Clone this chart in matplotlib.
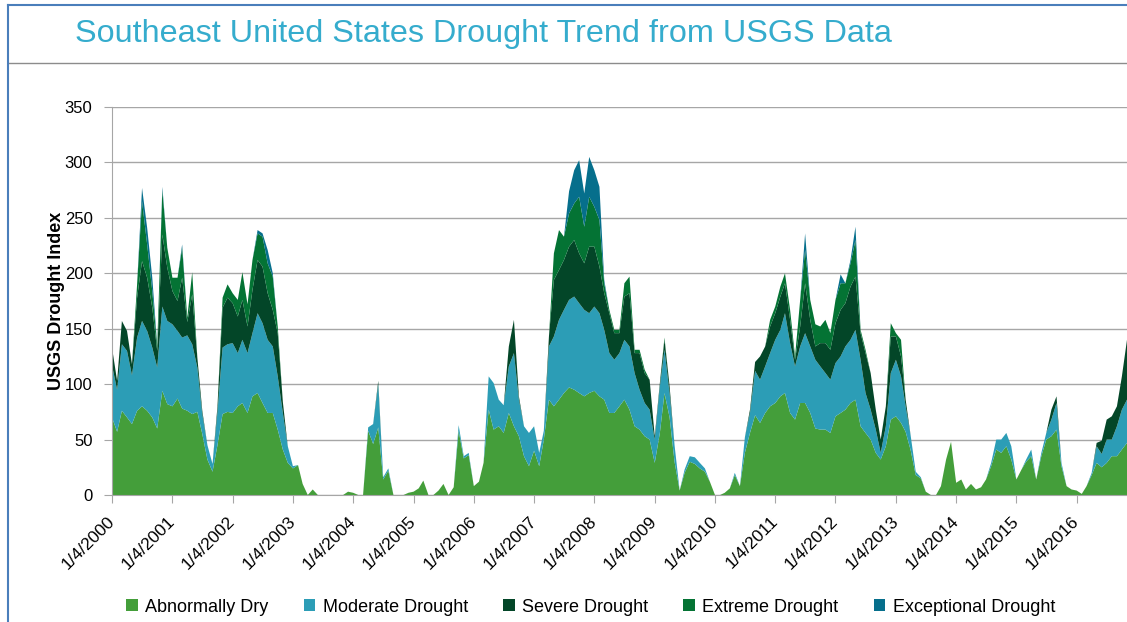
import numpy as np
import pandas as pd
import matplotlib
matplotlib.use('Agg')
import matplotlib.pyplot as plt
from matplotlib.lines import Line2D
from matplotlib.patches import Patch

plt.rcParams['font.family'] = ['Liberation Sans', 'DejaVu Sans']

# maanedlige verdier (avlest), jan 2000 - nov 2016
dates = pd.date_range('2000-01-01', periods=203, freq='MS') + pd.Timedelta(days=3)

abnormally_dry = sum([
    [70, 57, 76, 70, 64, 76, 80, 76, 70, 60, 94, 82],   # 2000
    [80, 87, 78, 76, 73, 75, 55, 32, 21, 45, 73, 75],   # 2001
    [74, 80, 83, 74, 89, 92, 83, 74, 74, 59, 41, 29],   # 2002
    [24, 27, 10, 0, 5, 0, 0, 0, 0, 0, 0, 3],            # 2003
    [2, 0, 0, 58, 46, 61, 14, 22, 0, 0, 0, 2],          # 2004
    [3, 6, 13, 0, 0, 4, 10, 0, 7, 58, 33, 36],          # 2005
    [8, 12, 29, 77, 59, 62, 56, 74, 62, 53, 35, 26],    # 2006
    [40, 26, 50, 86, 80, 86, 92, 97, 95, 92, 89, 92],   # 2007
    [94, 89, 86, 74, 74, 80, 86, 77, 62, 59, 53, 50],   # 2008
    [29, 56, 92, 70, 30, 4, 20, 30, 28, 24, 21, 12],    # 2009
    [0, 0, 2, 6, 18, 8, 38, 56, 72, 65, 74, 80],        # 2010
    [83, 89, 92, 74, 68, 83, 83, 74, 60, 59, 59, 56],   # 2011
    [71, 74, 77, 83, 86, 62, 56, 50, 38, 32, 44, 68],   # 2012
    [71, 65, 57, 40, 18, 15, 3, 0, 0, 8, 32, 48],       # 2013
    [11, 14, 5, 10, 5, 7, 14, 26, 41, 38, 44, 32],      # 2014
    [14, 23, 30, 35, 14, 35, 50, 53, 59, 26, 8, 5],     # 2015
    [4, 1, 8, 18, 29, 25, 29, 35, 35, 41, 47],          # 2016
], [])

moderate = sum([
    [47, 38, 60, 60, 44, 66, 77, 72, 63, 55, 76, 75],
    [74, 61, 64, 68, 63, 40, 18, 13, 7, 30, 60, 61],
    [63, 48, 57, 54, 57, 72, 72, 66, 60, 48, 33, 15],
    [2, 0, 0, 0, 0, 0, 0, 0, 0, 0, 0, 0],
    [0, 0, 0, 3, 18, 39, 2, 2, 0, 0, 0, 0],
    [0, 0, 0, 0, 0, 0, 0, 0, 0, 5, 2, 2],
    [0, 0, 0, 30, 42, 24, 25, 42, 66, 33, 27, 30],
    [22, 12, 8, 48, 63, 72, 75, 79, 84, 81, 78, 72],
    [76, 75, 63, 54, 48, 48, 54, 57, 48, 36, 30, 27],
    [21, 42, 39, 22, 15, 0, 3, 5, 6, 5, 3, 0],
    [0, 0, 0, 0, 2, 0, 14, 18, 40, 39, 42, 48],
    [57, 60, 72, 63, 48, 51, 63, 60, 62, 57, 51, 48],
    [48, 51, 57, 57, 63, 60, 36, 27, 21, 6, 18, 42],
    [51, 42, 23, 13, 3, 1, 0, 0, 0, 0, 0, 0],
    [0, 0, 0, 0, 0, 0, 0, 3, 9, 12, 12, 12],
    [0, 0, 2, 6, 0, 3, 6, 15, 24, 3, 0, 0],
    [0, 0, 0, 2, 15, 12, 21, 15, 27, 36, 39],
], [])

severe = sum([
    [16, 8, 21, 18, 10, 36, 54, 48, 36, 15, 65, 48],
    [30, 27, 54, 12, 45, 9, 3, 0, 0, 5, 36, 42],
    [36, 33, 36, 24, 39, 48, 51, 42, 33, 39, 10, 0],
    [0, 0, 0, 0, 0, 0, 0, 0, 0, 0, 0, 0],
    [0, 0, 0, 0, 0, 3, 0, 0, 0, 0, 0, 0],
    [0, 0, 0, 0, 0, 0, 0, 0, 0, 0, 0, 0],
    [0, 0, 0, 0, 0, 0, 0, 18, 30, 3, 0, 0],
    [0, 0, 0, 9, 51, 45, 45, 48, 51, 45, 42, 60],
    [54, 42, 33, 36, 24, 18, 39, 48, 18, 33, 27, 27],
    [3, 3, 9, 6, 0, 0, 0, 0, 0, 0, 0, 0],
    [0, 0, 0, 0, 0, 0, 0, 3, 8, 21, 18, 24],
    [24, 30, 27, 21, 6, 18, 45, 24, 12, 21, 27, 27],
    [36, 42, 39, 48, 48, 24, 36, 33, 18, 12, 18, 33],
    [21, 18, 6, 0, 0, 0, 0, 0, 0, 0, 0, 0],
    [0, 0, 0, 0, 0, 0, 0, 0, 0, 0, 0, 0],
    [0, 0, 0, 0, 0, 0, 0, 9, 6, 0, 0, 0],
    [0, 0, 0, 0, 3, 12, 18, 21, 18, 30, 54],
], [])

extreme = sum([
    [0, 0, 0, 0, 0, 12, 54, 30, 15, 5, 40, 18],
    [12, 21, 27, 4, 20, 0, 0, 0, 0, 0, 9, 12],
    [9, 15, 25, 20, 27, 24, 27, 27, 30, 6, 0, 0],
    [0, 0, 0, 0, 0, 0, 0, 0, 0, 0, 0, 0],
    [0, 0, 0, 0, 0, 0, 0, 0, 0, 0, 0, 0],
    [0, 0, 0, 0, 0, 0, 0, 0, 0, 0, 0, 0],
    [0, 0, 0, 0, 0, 0, 0, 0, 0, 0, 0, 0],
    [0, 0, 0, 0, 24, 36, 21, 30, 33, 51, 33, 45],
    [36, 42, 9, 3, 3, 3, 12, 15, 3, 3, 3, 0],
    [0, 0, 2, 0, 0, 0, 0, 0, 0, 0, 0, 0],
    [0, 0, 0, 0, 0, 0, 0, 0, 0, 0, 0, 6],
    [6, 9, 9, 9, 3, 24, 30, 18, 20, 15, 21, 15],
    [21, 24, 18, 21, 33, 3, 3, 0, 0, 0, 0, 12],
    [3, 15, 0, 0, 0, 0, 0, 0, 0, 0, 0, 0],
    [0, 0, 0, 0, 0, 0, 0, 0, 0, 0, 0, 0],
    [0, 0, 0, 0, 0, 0, 0, 0, 0, 0, 0, 0],
    [0, 0, 0, 0, 0, 0, 0, 0, 0, 0, 0],
], [])

exceptional = sum([
    [0, 0, 0, 0, 0, 0, 12, 15, 12, 0, 3, 0],
    [0, 0, 3, 0, 0, 0, 0, 0, 0, 0, 0, 0],
    [0, 0, 0, 0, 0, 3, 3, 12, 3, 0, 0, 0],
    [0, 0, 0, 0, 0, 0, 0, 0, 0, 0, 0, 0],
    [0, 0, 0, 0, 0, 0, 0, 0, 0, 0, 0, 0],
    [0, 0, 0, 0, 0, 0, 0, 0, 0, 0, 0, 0],
    [0, 0, 0, 0, 0, 0, 0, 0, 0, 0, 0, 0],
    [0, 0, 0, 0, 0, 0, 0, 20, 30, 33, 30, 36],
    [33, 30, 3, 0, 0, 0, 0, 0, 0, 0, 0, 0],
    [0, 0, 0, 0, 0, 0, 0, 0, 0, 0, 0, 0],
    [0, 0, 0, 0, 0, 0, 0, 0, 0, 0, 0, 0],
    [0, 0, 0, 0, 0, 0, 15, 0, 0, 0, 0, 0],
    [0, 8, 0, 3, 12, 0, 0, 0, 0, 0, 0, 0],
    [0, 0, 0, 0, 0, 0, 0, 0, 0, 0, 0, 0],
    [0, 0, 0, 0, 0, 0, 0, 0, 0, 0, 0, 0],
    [0, 0, 0, 0, 0, 0, 0, 0, 0, 0, 0, 0],
    [0, 0, 0, 0, 0, 0, 0, 0, 0, 0, 0],
], [])

labels = ['Abnormally Dry', 'Moderate Drought', 'Severe Drought',
          'Extreme Drought', 'Exceptional Drought']
colors = ['#449E3A', '#2C9DB6', '#034628', '#047334', '#066F8C']
years = list(range(2000, 2017))

fig = plt.figure(figsize=(11.27, 6.22), dpi=100)
ax = fig.add_axes([112/1127, 127/622, 1 - 112/1127, 388/622])

ax.stackplot(dates, abnormally_dry, moderate, severe, extreme, exceptional,
             colors=colors, linewidth=0)

ax.set_xlim(pd.Timestamp('2000-01-04'), dates[-1])
ax.set_ylim(0, 350)
ax.set_yticks(range(0, 351, 50))
ax.grid(axis='y', color='#a6a6a6', linewidth=1.0)
ax.set_axisbelow(True)

ax.set_xticks([pd.Timestamp(f'{y}-01-04') for y in years])
ax.set_xticklabels([f'1/4/{y}' for y in years], rotation=45, ha='right',
                   va='center', rotation_mode='anchor', fontsize=12.5)
ax.tick_params(axis='x', length=6, color='#a6a6a6', pad=11)
ax.tick_params(axis='y', length=6, color='#a6a6a6', pad=8, labelsize=12)

for s in ['top', 'right']:
    ax.spines[s].set_visible(False)
ax.spines['left'].set_color('#a6a6a6')
ax.spines['bottom'].set_color('#a6a6a6')

ax.set_ylabel('USGS Drought Index', fontsize=13, fontweight='bold')
ax.yaxis.set_label_coords(-0.046, 0.5)

# tittel og ramme
fig.text(75/1127, 1 - 42/622, 'Southeast United States Drought Trend from USGS Data',
         fontsize=23.3, color='#35ACCD', va='baseline')
fig.add_artist(Line2D([8/1127, 1], [1 - 63/622, 1 - 63/622], color='#8c8c8c', lw=1))
fig.add_artist(Line2D([8/1127, 8/1127], [0, 1 - 5/622], color='#4A7EBB', lw=1.5))
fig.add_artist(Line2D([8/1127, 1], [1 - 5/622, 1 - 5/622], color='#4A7EBB', lw=1.5))

handles = [Patch(facecolor=c, edgecolor='none') for c in colors]
fig.legend(handles, labels, loc='center left', bbox_to_anchor=(110/1127, 1 - 607/622),
           ncol=5, frameon=False, fontsize=13, handlelength=0.65, handleheight=0.65,
           handletextpad=0.4, columnspacing=1.95)

plt.savefig('out.png', dpi=100)
